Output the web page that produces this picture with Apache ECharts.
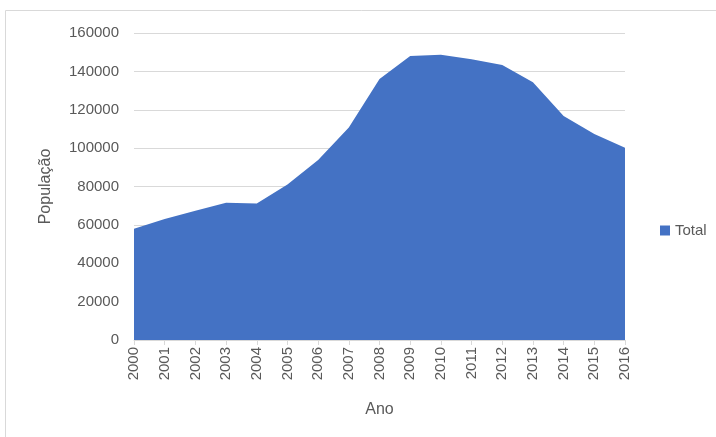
<!DOCTYPE html>
<html>
<head>
<meta charset="utf-8">
<script src="https://cdn.jsdelivr.net/npm/echarts@6/dist/echarts.min.js"></script>
<style>
  html, body { margin: 0; padding: 0; background: #fff; }
  #chart { width: 716px; height: 437px; }
</style>
</head>
<body>
<div id="chart"></div>
<script>
// 年份
const years = ['2000', '2001', '2002', '2003', '2004', '2005', '2006', '2007', '2008',
  '2009', '2010', '2011', '2012', '2013', '2014', '2015', '2016']
// 人口总数
const totalValues = [58000, 63000, 67400, 71500, 71200, 81000, 93800, 110800, 136000,
  148000, 148700, 146300, 143300, 134300, 116700, 107300, 100200]
const seriesName = 'Total'

const chart = echarts.init(document.getElementById('chart'))
const fontFamily = '"Liberation Sans", Arial, sans-serif'
const textColor = '#595959'

const option = {
  animation: false,
  textStyle: { fontFamily: fontFamily },
  // 外框
  graphic: [{
    type: 'rect',
    shape: { x: 5.5, y: 10.5, width: 740, height: 460 },
    style: { fill: 'none', stroke: '#d9d9d9', lineWidth: 1 },
    silent: true
  }],
  legend: {
    data: [seriesName],
    orient: 'vertical',
    left: 655,
    top: 218,
    itemWidth: 10,
    itemHeight: 10,
    itemGap: 4,
    icon: 'rect',
    textStyle: { color: textColor, fontSize: 15, fontFamily: fontFamily }
  },
  grid: {
    left: 134,
    right: 91,
    top: 33,
    bottom: 97
  },
  xAxis: {
    type: 'category',
    data: years,
    boundaryGap: false,
    name: 'Ano',
    nameLocation: 'middle',
    nameGap: 62,
    nameTextStyle: { color: textColor, fontSize: 16 },
    axisLine: { show: true, lineStyle: { color: '#d9d9d9', width: 1 } },
    axisTick: { show: true, alignWithLabel: true, length: 5, lineStyle: { color: '#d9d9d9' } },
    axisLabel: {
      rotate: 90,
      color: textColor,
      fontSize: 15,
      margin: 7,
      interval: 0
    },
    splitLine: { show: false }
  },
  yAxis: {
    type: 'value',
    min: 0,
    max: 160000,
    interval: 20000,
    name: 'População',
    nameLocation: 'middle',
    nameGap: 80,
    nameRotate: 90,
    nameTextStyle: { color: textColor, fontSize: 16 },
    axisLine: { show: false },
    axisTick: { show: false },
    axisLabel: {
      color: textColor,
      fontSize: 15,
      margin: 15,
      formatter: function (v) { return String(v) }
    },
    splitLine: { show: true, lineStyle: { color: '#d9d9d9', width: 1 } }
  },
  series: [{
    name: seriesName,
    type: 'line',
    data: totalValues,
    showSymbol: false,
    symbol: 'none',
    lineStyle: { width: 0, color: '#4472C4' },
    itemStyle: { color: '#4472C4' },
    areaStyle: { color: '#4472C4', opacity: 1 },
    z: 3
  }]
}

chart.setOption(option)
</script>
</body>
</html>
